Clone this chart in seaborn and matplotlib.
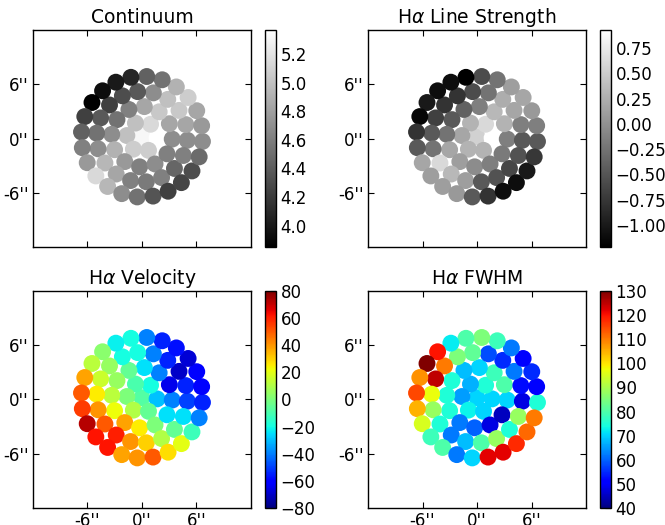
import numpy as np
import pandas as pd
import matplotlib
matplotlib.use("Agg")
import matplotlib.pyplot as plt
from matplotlib.colors import Normalize
import seaborn as sns

# fibre bundle: concentric rings of 6k fibres, first fibre of each ring at the same angle
ring_counts = [1, 6, 12, 18, 24]
ring_pitch = 1.67        # arcsec between rings
ring_rotation = -4.5     # deg
bundle_center = (0.0, 0.2)

# values per fibre: centre, then each ring counter-clockwise from the first fibre
continuum = [5.32,
             5.37, 5.14, 4.99, 4.99, 5.07, 5.07,
             4.69, 4.84, 5.04, 4.84, 4.61, 4.53, 4.69, 4.91, 4.76, 4.61, 4.69, 4.61,
             4.69, 4.84, 5.04, 4.99, 4.69, 4.38, 4.31, 4.23, 4.38, 4.53, 4.69, 4.94,
             4.84, 4.61, 4.58, 4.61, 4.46, 4.61,
             4.69, 4.76, 4.84, 5.07, 4.91, 4.53, 4.43, 4.08, 4.00, 3.93, 3.85, 4.23,
             4.43, 4.61, 4.76, 5.14, 4.94, 4.69, 4.53, 4.35, 4.23, 4.26, 4.31, 4.49]

line_strength = [0.54,
                 0.93, 0.61, 0.29, 0.18, 0.29, 0.29,
                 -0.15, 0.29, 0.33, -0.15, -0.40, -0.47, -0.25, 0.18, 0.11, -0.04, -0.15, -0.19,
                 -0.47, -0.15, 0.18, 0.24, -0.25, -0.58, -0.79, -0.79, -0.68, -0.47, -0.25, 0.61,
                 0.33, 0.11, -0.47, -0.53, -0.62, -0.53,
                 -0.47, -0.15, 0.07, 0.18, 0.11, -0.25, -0.58, -1.22, -1.11, -1.11, -1.01, -1.16,
                 -0.79, -0.47, 0.18, 0.11, 0.11, 0.07, -0.47, -0.79, -1.11, -1.11, -1.01, -0.75]

velocity = [-8,
            -30, -20, -10, 0, 10, -5,
            -40, -65, -40, -25, -5, 5, 12, 22, 38, 25, 0, -25,
            -50, -55, -70, -55, -40, -20, -20, 5, 15, 25, 40, 50, 60, 40, 30, 10, -5, -25,
            -55, -60, -62, -68, -58, -55, -40, -20, -22, 3, 12, 38,
            50, 55, 72, 62, 62, 38, 40, 50, 28, 20, -12, -40]

fwhm = [70,
        70, 75, 67, 65, 73, 70,
        70, 80, 78, 70, 68, 75, 75, 75, 62, 60, 48, 45,
        48, 52, 62, 55, 58, 82, 85, 110, 125, 97, 88, 75, 62, 68, 80, 88, 75, 88,
        75, 50, 55, 50, 62, 78, 85, 80, 72, 120, 130, 108,
        115, 105, 95, 78, 80, 62, 70, 122, 122, 118, 112, 110]

tick_pos = [-6, 0, 6]
tick_text = ["-6''", "0''", "6''"]

xs, ys = [], []
for k, n in enumerate(ring_counts):
    for j in range(n):
        ang = np.deg2rad(ring_rotation + 360.0 * j / n)
        xs.append(bundle_center[0] + k * ring_pitch * np.cos(ang))
        ys.append(bundle_center[1] + k * ring_pitch * np.sin(ang))

df = pd.DataFrame({"x": xs, "y": ys, "cont": continuum, "ew": line_strength,
                   "vel": velocity, "fwhm": fwhm})

sns.set_style("ticks", {"xtick.direction": "in", "ytick.direction": "in"})
plt.rcParams["font.family"] = ["DejaVu Sans"]
plt.rcParams.update({"text.color": "black", "axes.labelcolor": "black",
                     "xtick.color": "black", "ytick.color": "black",
                     "axes.edgecolor": "black"})

fig = plt.figure(figsize=(6.65, 5.25), dpi=100)

gray = plt.get_cmap("gray")
jet = plt.get_cmap("jet")

panels = [
    ("cont", "Continuum", gray, min(continuum), max(continuum),
     [4.0, 4.2, 4.4, 4.6, 4.8, 5.0, 5.2], 0.0496, 0.5295, False),
    ("ew", r"H$\alpha$ Line Strength", gray, min(line_strength), max(line_strength),
     [-1.0, -0.75, -0.5, -0.25, 0.0, 0.25, 0.5, 0.75], 0.5534, 0.5295, False),
    ("vel", r"H$\alpha$ Velocity", jet, -80, 80,
     [-80, -60, -40, -20, 0, 20, 40, 60, 80], 0.0496, 0.0324, True),
    ("fwhm", r"H$\alpha$ FWHM", jet, 40, 130,
     [40, 50, 60, 70, 80, 90, 100, 110, 120, 130], 0.5534, 0.0324, True),
]

for col, title, cmap, vmin, vmax, cticks, left, bottom, xlab in panels:
    ax = fig.add_axes([left, bottom, 0.3278, 0.4133])
    sns.scatterplot(data=df, x="x", y="y", hue=col, palette=cmap,
                    hue_norm=(vmin, vmax), s=148, linewidth=0,
                    legend=False, ax=ax)
    ax.set_xlim(-12, 12)
    ax.set_ylim(-12, 12)
    ax.set_xlabel("")
    ax.set_ylabel("")
    ax.set_title(title, fontsize=13.5, pad=5)
    ax.set_xticks(tick_pos)
    ax.set_yticks(tick_pos)
    ax.set_xticklabels(tick_text if xlab else ["", "", ""])
    ax.set_yticklabels(tick_text)
    ax.tick_params(direction="in", top=True, right=True, length=4,
                   labelsize=12, pad=3)
    for sp in ax.spines.values():
        sp.set_linewidth(1.0)

    cax = fig.add_axes([left + 0.349, bottom, 0.0170, 0.4133])
    sm = plt.cm.ScalarMappable(norm=Normalize(vmin, vmax), cmap=cmap)
    cb = fig.colorbar(sm, cax=cax, ticks=cticks)
    if col == "cont":
        cb.ax.set_yticklabels([f"{t:.1f}" for t in cticks])
    cb.ax.tick_params(direction="in", length=4, labelsize=12, pad=3)
    cb.outline.set_linewidth(1.0)

fig.savefig("out.png", dpi=100)
